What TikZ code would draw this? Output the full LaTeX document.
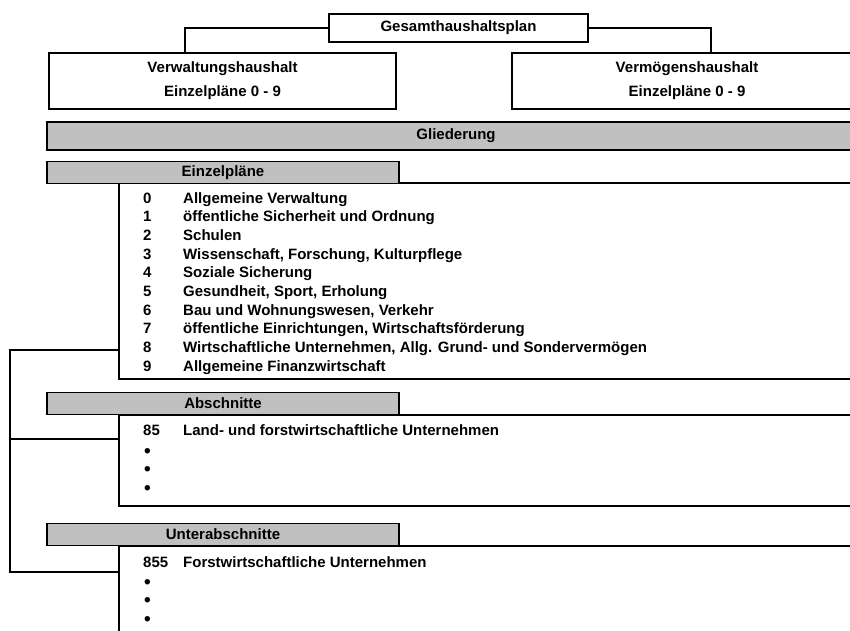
\documentclass[tikz,border=0pt]{standalone}
\usepackage{fontspec}
\setmainfont{Liberation Sans}
\begin{document}
\begin{tikzpicture}[x=1pt,y=-1pt,
  box/.style={draw, line width=1.9pt, fill=white, inner sep=0pt, align=center,
    font=\bfseries\fontsize{15}{24}\selectfont},
  bar/.style={draw, line width=1.9pt, fill=barGray, inner sep=0pt, minimum height=22pt,
    font=\bfseries\fontsize{15}{17}\selectfont},
  conn/.style={line width=1.9pt},
  itm/.style={inner sep=0pt, anchor=base west, font=\bfseries\fontsize{15}{17}\selectfont},
  dot/.style={inner sep=0pt, anchor=base west, font=\bfseries\fontsize{19}{21}\selectfont}]
\definecolor{barGray}{RGB}{192,192,192}
\useasboundingbox (0,0) rectangle (850,630);
\clip (0,0) rectangle (850,630);
% top boxes
\node[box, minimum width=259pt, minimum height=28pt] (gesamt) at (458.5,28) {Gesamthaushaltsplan};
\node[box, minimum width=347pt, minimum height=56pt] (verw) at (222.5,81) {Verwaltungshaushalt\\Einzelpläne 0 - 9};
\node[box, minimum width=350pt, minimum height=56pt] (verm) at (687,81) {Vermögenshaushalt\\Einzelpläne 0 - 9};
\draw[conn] (gesamt.west) -| ([xshift=-37.5pt]verw.north);
\draw[conn] (gesamt.east) -| ([xshift=24pt]verm.north);
% Gliederung
\node[bar, minimum width=818pt, minimum height=28pt] (glied) at (456,136) {Gliederung};
% section frames
\coordinate (f1a) at (860,183); \coordinate (f1b) at (119,379); \coordinate (f1c) at (860,379);
\coordinate (f2a) at (860,415); \coordinate (f2b) at (119,506); \coordinate (f2c) at (860,506);
\coordinate (f3a) at (860,546); \coordinate (f3b) at (119,640);
\draw[conn] (f1a) -| (f1b) -- (f1c);
\draw[conn] (f2a) -| (f2b) -- (f2c);
\draw[conn] (f3a) -| (f3b);
% headers
\node[bar, minimum width=352pt] (einz) at (223,172.5) {Einzelpläne};
\node[bar, minimum width=352pt] (absch) at (223,403.5) {Abschnitte};
\node[bar, minimum width=352pt] (unter) at (223,534.5) {Unterabschnitte};
% list Einzelpläne
\foreach \n/\t [count=\i from 0] in {0/{Allgemeine Verwaltung},
  1/{öffentliche Sicherheit und Ordnung},
  2/{Schulen},
  3/{Wissenschaft, Forschung, Kulturpflege},
  4/{Soziale Sicherung},
  5/{Gesundheit, Sport, Erholung},
  6/{Bau und Wohnungswesen, Verkehr},
  7/{öffentliche Einrichtungen, Wirtschaftsförderung},
  8/{Wirtschaftliche Unternehmen, Allg. Grund- und Sondervermögen},
  9/{Allgemeine Finanzwirtschaft}}{
  \node[itm] (en\i) at (143,203+18.67*\i) {\n};
  \node[itm] (et\i) at (183,203+18.67*\i) {\t};
}
% Abschnitte
\node[itm] (an) at (143,435) {85};
\node[itm] (at) at (183,435) {Land- und forstwirtschaftliche Unternehmen};
\foreach \k in {0,1,2}{
  \node[dot] (ab\k) at (144,457.5+18.4*\k) {•};
}
% Unterabschnitte
\node[itm] (un) at (143,567) {855};
\node[itm] (ut) at (183,567) {Forstwirtschaftliche Unternehmen};
\foreach \k in {0,1,2}{
  \node[dot] (ub\k) at (144,588+18.5*\k) {•};
}
% bracket
\coordinate (j1) at (119,350); \coordinate (j2) at (119,439); \coordinate (j3) at (119,572);
\coordinate (b2) at (10,439); \coordinate (b3) at (10,572);
\draw[conn] (j1) -| (b3) -- (j3);
\draw[conn] (b2) -- (j2);
\end{tikzpicture}
\end{document}
